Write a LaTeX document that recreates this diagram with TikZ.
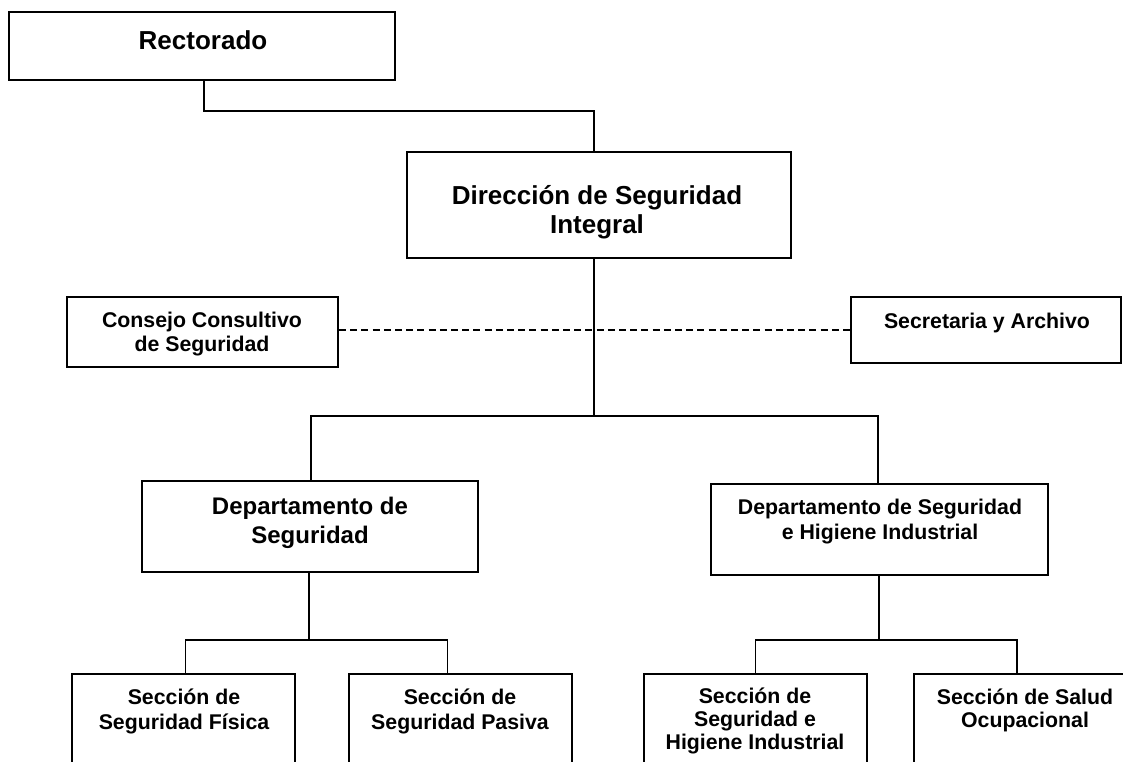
\documentclass[tikz,border=0pt]{standalone}
\usepackage{fontspec}
\setmainfont{Liberation Sans}
\usetikzlibrary{fit}
\begin{document}
\begin{tikzpicture}[x=0.5pt,y=-0.5pt,line width=0.8pt,
  box/.style={draw,rectangle,inner sep=0pt,line width=1pt},
  tl/.style={anchor=base,align=center,inner sep=0pt,font=\bfseries\fontsize{13}{14.5}\selectfont},
  tm/.style={anchor=base,align=center,inner sep=0pt,font=\bfseries\fontsize{12}{14.25}\selectfont},
  ts/.style={anchor=base,align=center,inner sep=0pt,font=\bfseries\fontsize{10.65}{12}\selectfont},
  dashline/.style={dash pattern=on 3.5pt off 2.1pt}]
\useasboundingbox (0,0) rectangle (1123,761);
\clip (0,0) rectangle (1123,761);
% boxes
\node[box,fit={(9,12)(395,80)}] (rect) {};
\node[box,fit={(407,152)(791,258)}] (dir) {};
\node[box,fit={(67,297)(338,367)}] (cons) {};
\node[box,fit={(851,297)(1121,363)}] (sec) {};
\node[box,fit={(142,481)(478,572)}] (dseg) {};
\node[box,fit={(711,484)(1048,575)}] (dhig) {};
\node[box,fit={(72,674)(295,800)}] (sf) {};
\node[box,fit={(349,674)(572,800)}] (sp) {};
\node[box,fit={(644,674)(867,800)}] (shi) {};
\node[box,fit={(914,674)(1137,800)}] (ss) {};
% texts (base anchor = baseline of the last line)
\node[tl] (rectt) at (203,49) {Rectorado};
\node[tl] (dirt) at (597,233) {Dirección de Seguridad\\Integral};
\node[ts] (const) at (202,351) {Consejo Consultivo\\de Seguridad};
\node[ts] (sect) at (987,328) {Secretaria y Archivo};
\node[tm] (dsegt) at (310,543) {Departamento de\\Seguridad};
\node[ts,font=\bfseries\fontsize{10.65}{12.5}\selectfont] (dhigt) at (880,539) {Departamento de Seguridad\\e Higiene Industrial};
\node[ts,font=\bfseries\fontsize{10.65}{12.5}\selectfont] (sft) at (184,729) {Sección de\\Seguridad Física};
\node[ts,font=\bfseries\fontsize{10.65}{12.5}\selectfont] (spt) at (460,729) {Sección de\\Seguridad Pasiva};
\node[ts,font=\bfseries\fontsize{10.65}{11.5}\selectfont] (shit) at (755,749) {Sección de\\Seguridad e\\Higiene Industrial};
\node[ts,font=\bfseries\fontsize{10.65}{11.5}\selectfont] (sst) at (1025,727) {Sección de Salud\\Ocupacional};
% connectors
\coordinate (j1) at (594,111);
\coordinate (j2) at (594,416);
\coordinate (bl) at (311,416);
\coordinate (br) at (878,416);
\draw ([xshift=1pt]rect.south) |- (j1) -- (j1 |- dir.north);
\draw (j1 |- dir.south) -- (j2);
\draw (bl |- dseg.north) |- (br) -- (br |- dhig.north);
\draw[dashline] ([yshift=1pt]cons.east) -- ([yshift=1pt]cons.east -| sec.west);
\coordinate (l1) at (309,640);
\coordinate (l2) at (185.5,640);
\coordinate (l3) at (447.5,640);
\draw (l1 |- dseg.south) -- (l1);
\draw (l2 |- sf.north) |- (l3) -- (l3 |- sp.north);
\coordinate (r1) at (879,640);
\coordinate (r2) at (755.5,640);
\coordinate (r3) at (1017,640);
\draw (r1 |- dhig.south) -- (r1);
\draw (r2 |- shi.north) |- (r3) -- (r3 |- ss.north);
\end{tikzpicture}
\end{document}
